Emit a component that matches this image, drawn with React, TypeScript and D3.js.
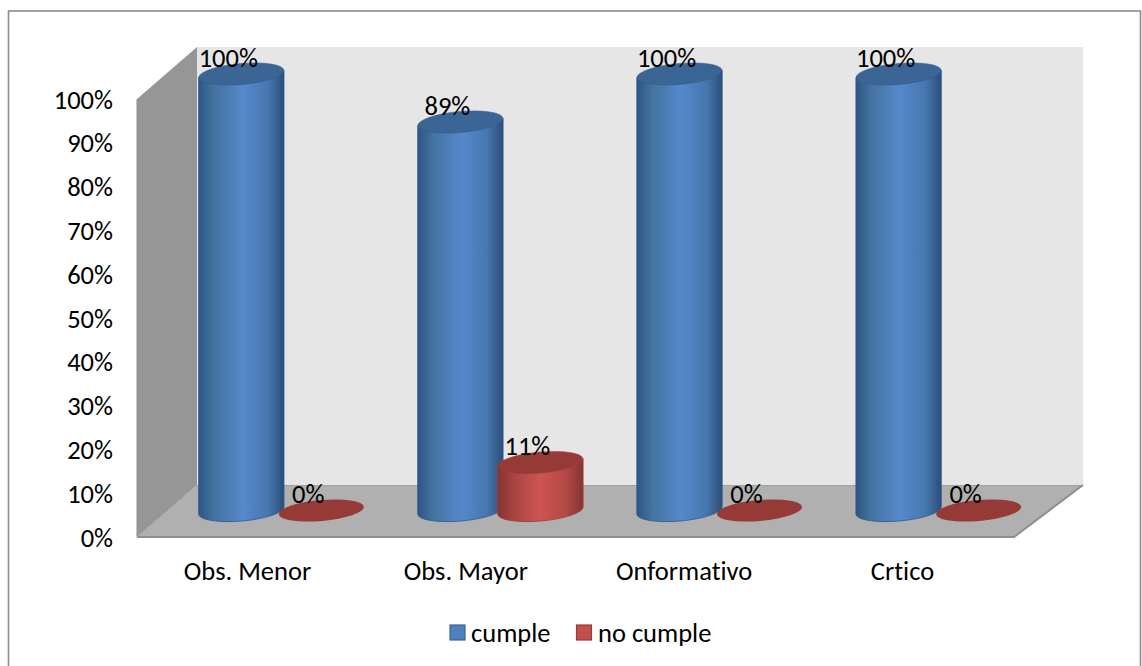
import React from "react";
import * as d3 from "d3";

const categories = ["Obs. Menor", "Obs. Mayor", "Onformativo", "Crtico"];
const cumple = [1, 0.89, 1, 1];
const noCumple = [0, 0.11, 0, 0];
const cumpleLabels = ["100%", "89%", "100%", "100%"];
const noCumpleLabels = ["0%", "11%", "0%", "0%"];
const ticks = [0, 0.1, 0.2, 0.3, 0.4, 0.5, 0.6, 0.7, 0.8, 0.9, 1];

const W = 1142, H = 666;
const FONT = "Carlito, Calibri, Lato, 'Open Sans', sans-serif";
const FS = 26.5;
const axisY = d3.scaleLinear().domain([0, 1]).range([537, 99]);
const barY = d3.scaleLinear().domain([0, 1]).range([510.5, 74]);
const groupX = d3.scalePoint<string>().domain(categories).range([241.3, 898.6]);
const labelX = d3.scalePoint<string>().domain(categories).range([247.5, 902.5]);
const RX = 42.7, RY = 10.5, TILT = -5, RED_DX = 80;

function Cyl({ cx, v, side, top, stroke }: { cx: number; v: number; side: string; top: string; stroke: string }) {
  const yT = barY(v), yB = barY(0);
  const rad = (TILT * Math.PI) / 180;
  const dy = RX * Math.sin(-rad);
  const body =
    `M${cx - RX},${yT + dy} L${cx - RX},${yB + dy} ` +
    `A${RX},${RY} ${TILT} 0 0 ${cx + RX},${yB - dy} ` +
    `L${cx + RX},${yT - dy} Z`;
  return (
    <g>
      {v > 0 && <path d={body} fill={side} stroke={stroke} strokeWidth={0.8} />}
      <ellipse cx={cx} cy={yT} rx={RX} ry={RY} fill={top} stroke={v > 0 ? stroke : "none"} strokeWidth={0.5}
        transform={`rotate(${TILT} ${cx} ${yT})`} />
    </g>
  );
}

export default function App() {
  return (
    <svg width={W} height={H} viewBox={`0 0 ${W} ${H}`}
      style={{ position: "absolute", left: 0, top: 0, background: "#fff", fontVariantLigatures: "none" }} fontFamily={FONT}>
      <defs>
        <linearGradient id="blue" x1="0" x2="1" y1="0" y2="0">
          <stop offset="0" stopColor="#2f5583" />
          <stop offset="0.18" stopColor="#44739f" />
          <stop offset="0.52" stopColor="#5589cc" />
          <stop offset="0.82" stopColor="#4676ad" />
          <stop offset="1" stopColor="#2c4d78" />
        </linearGradient>
        <linearGradient id="red" x1="0" x2="1" y1="0" y2="0">
          <stop offset="0" stopColor="#853432" />
          <stop offset="0.2" stopColor="#a94542" />
          <stop offset="0.5" stopColor="#cd5451" />
          <stop offset="0.8" stopColor="#b24845" />
          <stop offset="1" stopColor="#853432" />
        </linearGradient>
      </defs>
      <rect x={8.5} y={11} width={1132} height={670} fill="#fff" stroke="#8c8c8c" strokeWidth={1.6} />

      <polygon points="197,47 1083,47 1083,485 197,485" fill="#e6e6e6" />
      <polygon points="137,99 197,47 197,485 137,537" fill="#969696" />
      <polygon points="137,537 197,485 1083,485 1014,537" fill="#b0b0b0" />
      <line x1={197} y1={485.5} x2={1083} y2={485.5} stroke="#a0a0a0" strokeWidth={1.2} />
      <polyline points="137,537 1014,537 1083,485" fill="none" stroke="#8e8e8e" strokeWidth={2} />
      <line x1={137} y1={99} x2={137} y2={537} stroke="#8e8e8e" strokeWidth={1} />
      <line x1={137} y1={537} x2={197} y2={485} stroke="#a6a6a6" strokeWidth={1} />

      {ticks.map((t) => (
        <text key={t} x={113} y={axisY(t)} dy="0.36em" textAnchor="end" fontSize={FS} fill="#000">
          {`${Math.round(t * 100)}%`}
        </text>
      ))}

      {categories.map((c, i) => {
        const cx = groupX(c)!;
        return (
          <g key={c}>
            <Cyl cx={cx} v={cumple[i]} side="url(#blue)" top="#3b6595" stroke="#2f5b8f" />
            <Cyl cx={cx + RED_DX} v={noCumple[i]} side="url(#red)" top="#953a37" stroke="#9c3c39" />
          </g>
        );
      })}
      {categories.map((c, i) => {
        const cx = groupX(c)!;
        return (
          <g key={c} fontSize={FS} fill="#000" textAnchor="middle">
            <text x={cx - 13} y={barY(cumple[i]) - 17} dy="0.36em">{cumpleLabels[i]}</text>
            <text x={cx + RED_DX - 13} y={barY(noCumple[i]) - 17} dy="0.36em">{noCumpleLabels[i]}</text>
          </g>
        );
      })}

      {categories.map((c) => (
        <text key={c} x={labelX(c)} y={570} dy="0.36em" textAnchor="middle" fontSize={FS} fill="#000">{c}</text>
      ))}

      <rect x={450} y={625} width={15} height={15} fill="#4f81bd" stroke="#3a6595" strokeWidth={1.2} />
      <text x={471} y={632} dy="0.36em" fontSize={FS} fill="#000">cumple</text>
      <rect x={576.5} y={625} width={15} height={15} fill="#c0504d" stroke="#963c39" strokeWidth={1.2} />
      <text x={598} y={632} dy="0.36em" fontSize={FS} fill="#000">no cumple</text>
    </svg>
  );
}
